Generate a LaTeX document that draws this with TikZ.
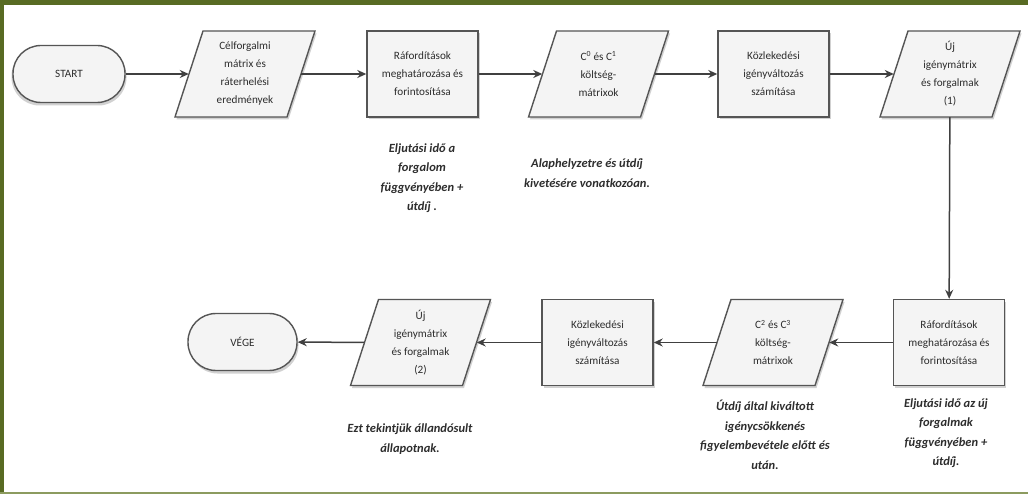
\documentclass[tikz,border=0pt]{standalone}
\usepackage{fontspec}
\setmainfont{Carlito}
\usetikzlibrary{arrows.meta}
\definecolor{frame}{RGB}{88,107,35}
\definecolor{framelight}{RGB}{140,155,95}
\definecolor{shapeline}{RGB}{85,85,85}
\definecolor{shapefill}{RGB}{244,244,244}
\definecolor{txt}{RGB}{45,45,45}
\tikzset{
  boxtext/.style={align=center, text=txt, font=\fontsize{11.2}{18}\selectfont, inner sep=0pt},
  procbox/.style={boxtext, draw=shapeline, fill=shapefill, line width=1.4pt, minimum width=111pt, minimum height=86pt},
  termbox/.style={boxtext, draw=shapeline, fill=shapefill, line width=1.4pt, rounded corners=28pt, minimum width=112pt, minimum height=57pt},
  paratext/.style={boxtext, minimum width=112pt, minimum height=86pt},
  parashape/.style={draw=shapeline, fill=shapefill, line width=1.4pt, line join=miter},
  shadowshape/.style={fill=black!18},
  note/.style={align=center, text=txt, font=\fontsize{12.5}{19.5}\selectfont\bfseries\itshape, inner sep=0pt},
  flow/.style={draw=black!75, line width=1.5pt, -{Stealth[length=9pt,width=8pt]}}
}
\newcommand\parabox[4]{%
  \fill[shadowshape] ({#2-42+1.5},{#3-43+2.5}) -- ({#2+70+1.5},{#3-43+2.5}) -- ({#2+42+1.5},{#3+43+2.5}) -- ({#2-70+1.5},{#3+43+2.5}) -- cycle;
  \path[parashape] ({#2-42},{#3-43}) -- ({#2+70},{#3-43}) -- ({#2+42},{#3+43}) -- ({#2-70},{#3+43}) -- cycle;
  \node[paratext] (#1) at (#2,#3) {#4};
}
\newcommand\procshadow[2]{%
  \fill[shadowshape] ({#1-55.5+1.5},{#2-43+2.5}) rectangle ({#1+55.5+1.5},{#2+43+2.5});
}
\begin{document}
\begin{tikzpicture}[x=1pt,y=-1pt]
\useasboundingbox (0,0) rectangle (1028,494);
\fill[white] (0,0) rectangle (1028,494);
% frame
\fill[frame] (0,0) rectangle (1028,5);
\fill[frame] (0,0) rectangle (4,494);
\fill[framelight] (0,492) rectangle (1028,494);

% top row
\fill[shadowshape, rounded corners=28pt] (11.5,48) rectangle (126.5,105.5);
\node[termbox] (start) at (69,74) {START};
\parabox{p1}{245}{74}{Célforgalmi\\mátrix és\\ráterhelési\\eredmények}
\procshadow{422.5}{74}
\node[procbox] (b2) at (422.5,74) {Ráfordítások\\meghatározása és\\forintosítása};
\parabox{p3}{598.5}{74}{C\textsuperscript{0} és C\textsuperscript{1}\\költség-\\mátrixok}
\procshadow{773.5}{74}
\node[procbox] (b4) at (773.5,74) {Közlekedési\\igényváltozás\\számítása};
\parabox{p5}{950}{74}{Új\\igénymátrix\\és forgalmak\\(1)}

% bottom row
\procshadow{949}{342.5}
\node[procbox] (br) at (949,342.5) {Ráfordítások\\meghatározása és\\forintosítása};
\parabox{pc}{773}{342.5}{C\textsuperscript{2} és C\textsuperscript{3}\\költség-\\mátrixok}
\procshadow{597.5}{342.5}
\node[procbox] (bk) at (597.5,342.5) {Közlekedési\\igényváltozás\\számítása};
\parabox{pu}{420.5}{342.5}{Új\\igénymátrix\\és forgalmak\\(2)}
\fill[shadowshape, rounded corners=28pt] (189.5,316) rectangle (298.5,373.5);
\node[termbox, minimum width=109pt] (vege) at (242.5,342) {VÉGE};

% connectors
\draw[flow] (start) -- (p1);
\draw[flow] (p1) -- (b2);
\draw[flow] (b2) -- (p3);
\draw[flow] (p3) -- (b4);
\draw[flow] (b4) -- (p5);
\draw[flow] (p5) -- (br);
\draw[flow] (br) -- (pc);
\draw[flow] (pc) -- (bk);
\draw[flow] (bk) -- (pu);
\draw[flow] (pu) -- (vege);

% notes
\node[note] (n1) at (422,178) {Eljutási idő a\\forgalom\\függvényében +\\útdíj .};
\node[note] (n2) at (587,173) {Alaphelyzetre és útdíj\\kivetésére vonatkozóan.};
\node[note] (n3) at (410,439) {Ezt tekintjük állandósult\\állapotnak.};
\node[note] (n4) at (765,435) {Útdíj által kiváltott\\igénycsökkenés\\figyelembevétele előtt és\\után.};
\node[note] (n5) at (946,433) {Eljutási idő az új\\forgalmak\\függvényében +\\útdíj.};
\end{tikzpicture}
\end{document}
